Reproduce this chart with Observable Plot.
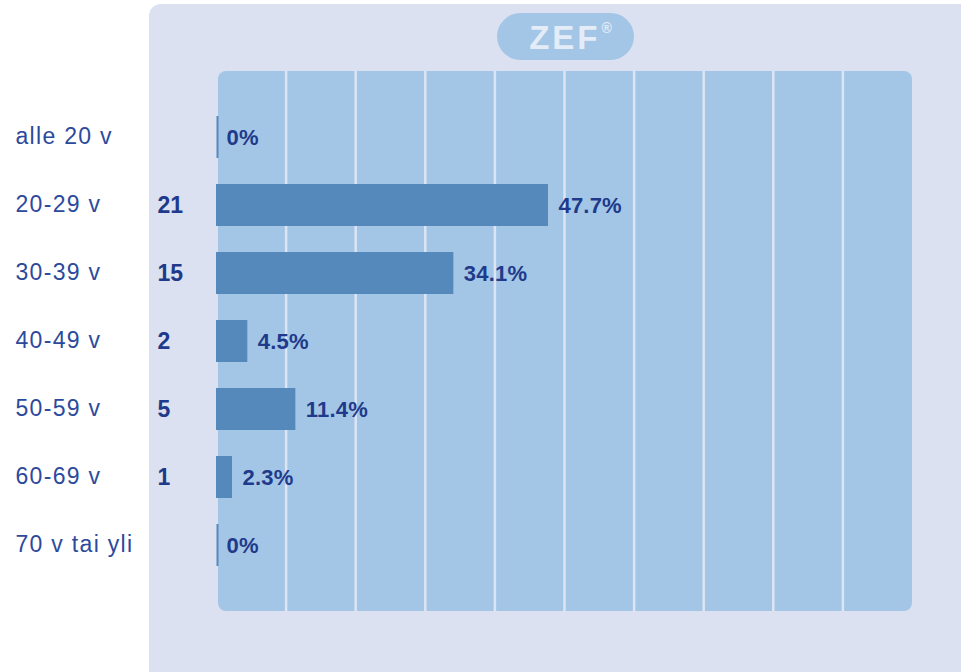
<!DOCTYPE html>
<html>
<head>
<meta charset="utf-8">
<script src="https://cdn.jsdelivr.net/npm/d3@7"></script>
<script src="https://cdn.jsdelivr.net/npm/@observablehq/plot@0.6"></script>
<style>
  html, body { margin: 0; padding: 0; background: #ffffff; width: 961px; height: 672px; overflow: hidden; }
  #wrap { position: relative; width: 961px; height: 672px; }
  #panel { position: absolute; left: 149px; top: 4px; width: 840px; height: 700px; background: #dbe1f0; border-radius: 12px; }
  #logo { position: absolute; left: 497px; top: 13px; width: 137px; height: 47px; border-radius: 24px; background: #a3c6e7;
          color: #e4ecf7; font-family: "Liberation Sans", Arial, sans-serif; font-weight: bold; font-size: 33px;
          line-height: 49px; text-align: center; letter-spacing: 3px; }
  #logo span.t { position: relative; left: 5px; }
  #logo sup { font-size: 14px; vertical-align: top; position: relative; top: -9px; margin-left: 1px; letter-spacing: 0; }
  #chart { position: absolute; left: 0; top: 0; }
  #chart svg { background: transparent; }
</style>
</head>
<body>
<div id="wrap">
  <div id="panel"></div>
  <div id="logo"><span class="t">ZEF<sup>®</sup></span></div>
  <div id="chart"></div>
</div>
<script>
const categories = ["alle 20 v", "20-29 v", "30-39 v", "40-49 v", "50-59 v", "60-69 v", "70 v tai yli"];
const counts = [0, 21, 15, 2, 5, 1, 0];
const percents = [0, 47.7, 34.1, 4.5, 11.4, 2.3, 0];
const gridTicks = [10, 20, 30, 40, 50, 60, 70, 80, 90];

const data = categories.map((c, i) => ({cat: c, count: counts[i], pct: percents[i]}));
const zeros = data.filter(d => d.pct === 0);
const nonZero = data.filter(d => d.pct > 0);

const font = "'Liberation Sans', Arial, sans-serif";

const chart = Plot.plot({
  width: 961,
  height: 672,
  marginLeft: 216,
  marginRight: 49,
  marginTop: 71,
  marginBottom: 61,
  style: {background: "transparent", fontFamily: font},
  x: {domain: [0, 100], axis: null},
  y: {domain: categories, axis: null, paddingInner: 0.385, paddingOuter: 0.655},
  marks: [
    Plot.rect([0], {x1: 0, x2: 100, fill: "#a3c6e7", rx: 8, insetLeft: 2}),
    Plot.ruleX(gridTicks, {stroke: "#dde4f2", strokeWidth: 2.5}),
    Plot.barX(nonZero, {x1: 0, x2: "pct", y: "cat", fill: "#5589bb"}),
    Plot.tickX(zeros, {x: 0, y: "cat", stroke: "#5589bb", strokeWidth: 2, dx: 1}),
    Plot.text(data, {y: "cat", text: "cat", frameAnchor: "left", dx: -201, dy: -1, textAnchor: "start",
      fill: "#2c4a9c", fontSize: 23}),
    Plot.text(data.filter(d => d.count > 0), {y: "cat", text: d => String(d.count), frameAnchor: "left", dx: -59,
      textAnchor: "start", fill: "#1f3a8a", fontSize: 23, fontWeight: "bold"}),
    Plot.text(data, {x: "pct", y: "cat", text: d => d.pct + "%", dx: 10, textAnchor: "start",
      fill: "#1f3a8a", fontSize: 22, fontWeight: "bold"})
  ]
});
d3.select(chart).selectAll("text").each(function () {
  const t = this.textContent;
  if (categories.includes(t)) this.setAttribute("letter-spacing", "1.3");
  else if (t.endsWith("%")) this.setAttribute("letter-spacing", "0.2");
});
document.getElementById("chart").appendChild(chart);
</script>
</body>
</html>
